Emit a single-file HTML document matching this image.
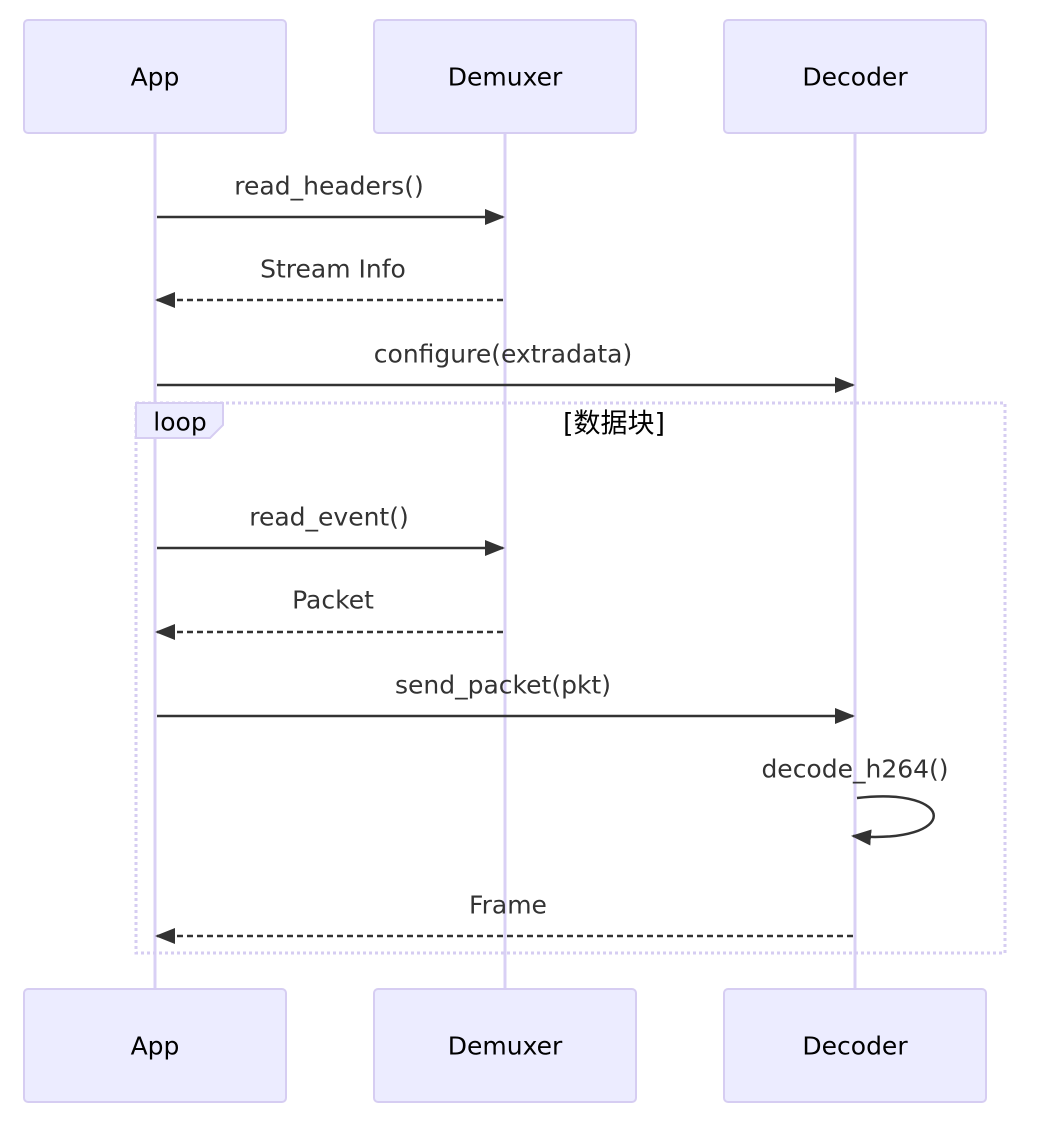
<!DOCTYPE html>
<html><head><meta charset="utf-8"><style>
html,body{margin:0;padding:0;background:#fff;}
svg{display:block;}
text{font-family:"DejaVu Sans","Noto Sans CJK SC",sans-serif;}
</style></head><body>
<svg width="1054" height="1126" viewBox="0 0 1054 1126" xmlns="http://www.w3.org/2000/svg">
<defs>
<marker id="ah" markerWidth="20" markerHeight="16" refX="18" refY="8" orient="auto" markerUnits="userSpaceOnUse">
<path d="M0,0 L20,8 L0,16 z" fill="#333"/>
</marker>
</defs>
<g stroke="#d9d0f5" stroke-width="3">
<line x1="155" y1="133" x2="155" y2="989"/>
<line x1="505" y1="133" x2="505" y2="989"/>
<line x1="855" y1="133" x2="855" y2="989"/>
</g>
<g fill="#ececff" stroke="#d6cdf2" stroke-width="2">
<rect x="24" y="20" width="262" height="113" rx="4"/>
<rect x="374" y="20" width="262" height="113" rx="4"/>
<rect x="724" y="20" width="262" height="113" rx="4"/>
<rect x="24" y="989" width="262" height="113" rx="4"/>
<rect x="374" y="989" width="262" height="113" rx="4"/>
<rect x="724" y="989" width="262" height="113" rx="4"/>
</g>
<g font-size="25" fill="#000" text-anchor="middle" dominant-baseline="central">
<text x="155" y="77">App</text><text x="505" y="77">Demuxer</text><text x="855" y="77">Decoder</text>
<text x="155" y="1046">App</text><text x="505" y="1046">Demuxer</text><text x="855" y="1046">Decoder</text>
</g>
<rect x="136" y="403" width="869" height="550" fill="none" stroke="#d6cdf2" stroke-width="3" stroke-dasharray="3,3"/>
<path d="M136,403 L223,403 L223,425 L210,438 L136,438 z" fill="#ececff" stroke="#d6cdf2" stroke-width="2"/>
<text x="180" y="422" font-size="25" text-anchor="middle" dominant-baseline="central" fill="#000">loop</text>
<text x="614" y="424" font-size="27" text-anchor="middle" dominant-baseline="central" fill="#000">[数据块]</text>
<g stroke="#333" stroke-width="2.5" fill="none">
<line x1="157" y1="217" x2="503" y2="217" marker-end="url(#ah)"/>
<line x1="503" y1="300" x2="157" y2="300" stroke-dasharray="6,4" marker-end="url(#ah)"/>
<line x1="157" y1="385" x2="853" y2="385" marker-end="url(#ah)"/>
<line x1="157" y1="548" x2="503" y2="548" marker-end="url(#ah)"/>
<line x1="503" y1="632" x2="157" y2="632" stroke-dasharray="6,4" marker-end="url(#ah)"/>
<line x1="157" y1="716" x2="853" y2="716" marker-end="url(#ah)"/>
<path d="M857,798 C958,786 962,845 853,836" marker-end="url(#ah)"/>
<line x1="853" y1="936" x2="157" y2="936" stroke-dasharray="6,4" marker-end="url(#ah)"/>
</g>
<g font-size="25" fill="#333" text-anchor="middle" dominant-baseline="central">
<text x="329" y="186">read_headers()</text>
<text x="333" y="269">Stream Info</text>
<text x="503" y="354">configure(extradata)</text>
<text x="329" y="517">read_event()</text>
<text x="333" y="600">Packet</text>
<text x="503" y="685">send_packet(pkt)</text>
<text x="855" y="769">decode_h264()</text>
<text x="508" y="905">Frame</text>
</g>
</svg>
</body></html>
